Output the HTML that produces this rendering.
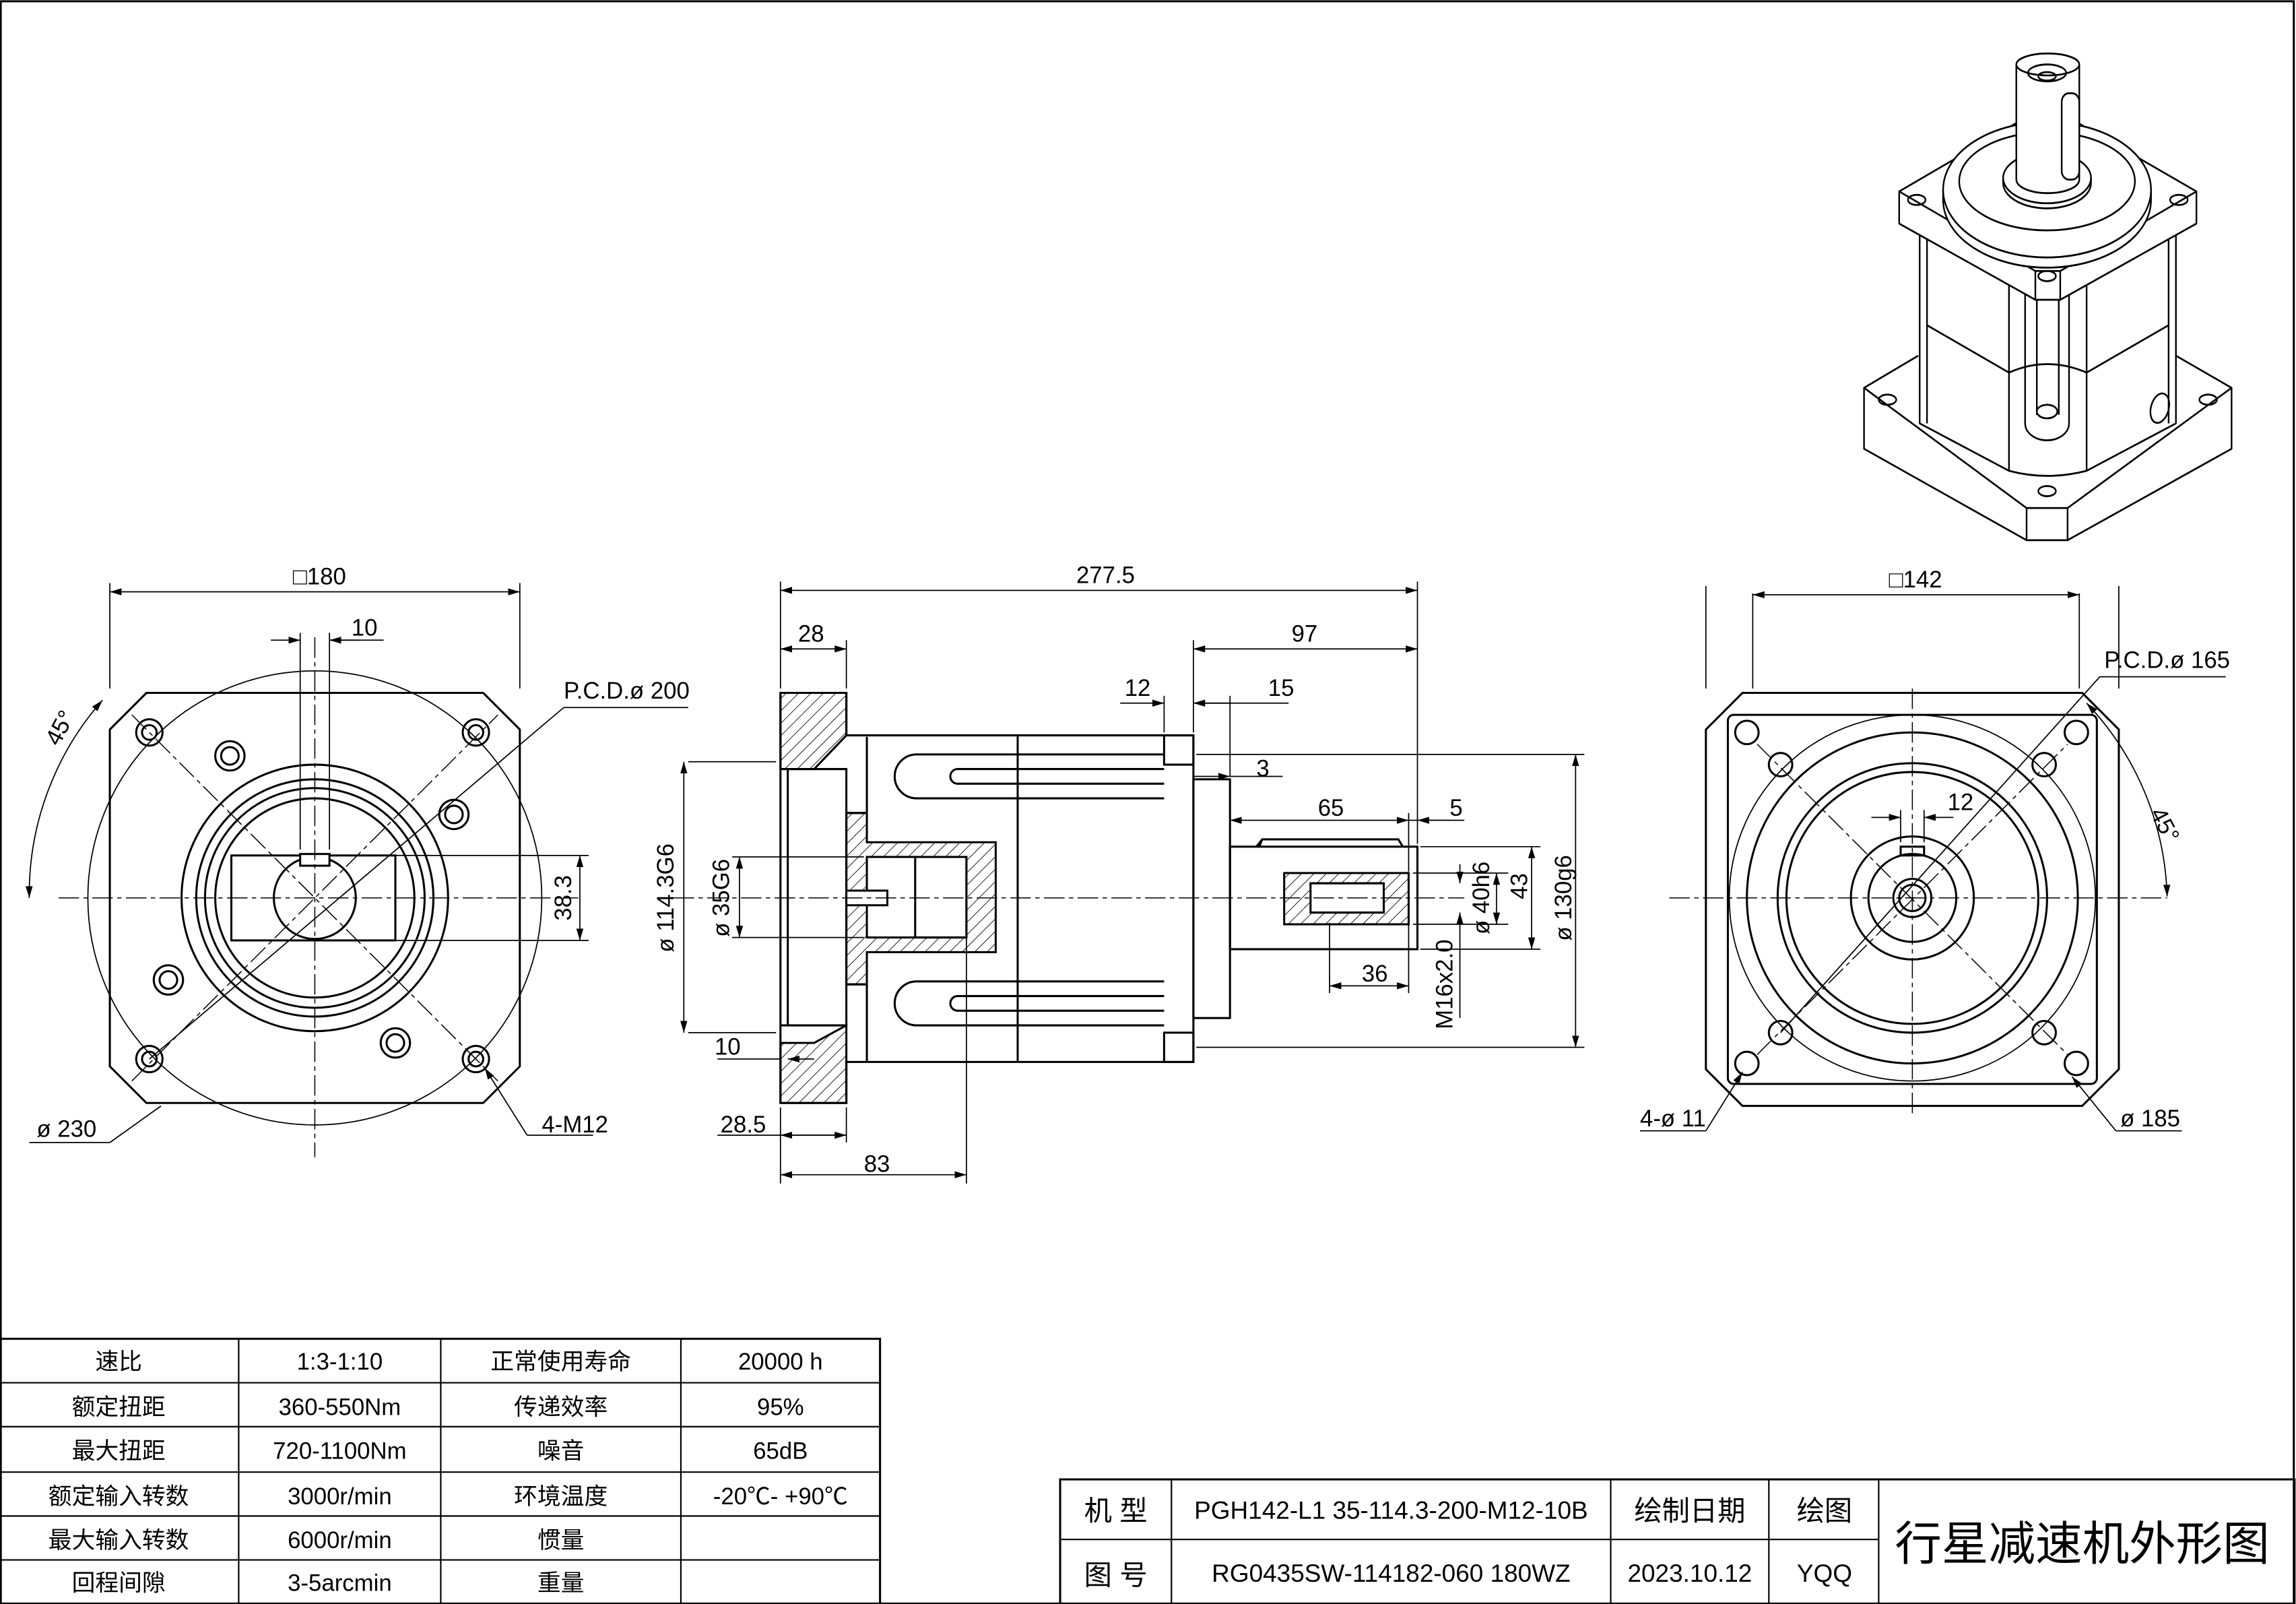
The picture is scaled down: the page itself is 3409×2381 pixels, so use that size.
<!DOCTYPE html>
<html><head><meta charset="utf-8"><style>
html,body{margin:0;padding:0;background:#fff}
svg{display:block}
text{font-family:"Liberation Sans","Noto Sans CJK SC",sans-serif;fill:#000}
</style></head><body>
<svg width="3409" height="2381" viewBox="0 0 1568 1095" xmlns="http://www.w3.org/2000/svg">
<defs>
<marker id="a" viewBox="0 0 10 10" refX="10" refY="5" markerWidth="8" markerHeight="8" orient="auto-start-reverse" markerUnits="userSpaceOnUse"><path d="M0,2 L10,5 L0,8z" fill="#000"/></marker>
<pattern id="h" width="6" height="6" patternUnits="userSpaceOnUse" patternTransform="rotate(45)"><line x1="0" y1="0" x2="0" y2="6" stroke="#000" stroke-width="0.8"/></pattern>
</defs>
<rect x="0.5" y="0.8" width="1566" height="1094" fill="none" stroke="#000" stroke-width="1.4"/>
<g fill="none" stroke="#000" stroke-width="1.4">
<!-- LEFT VIEW -->
<path d="M100,473 H330 L355,498 V728 L330,753 H100 L75,728 V498 Z"/>
<circle cx="215" cy="613" r="155" stroke-width="0.8"/>
<circle cx="215" cy="613" r="91"/>
<circle cx="215" cy="613" r="81"/>
<circle cx="215" cy="613" r="75"/>
<circle cx="215" cy="613" r="68"/>
<rect x="158" y="584" width="112" height="58"/>
<circle cx="215" cy="613" r="28" fill="#fff"/>
<rect x="205" y="583" width="20" height="8" fill="#fff"/>
<g>
<circle cx="102" cy="500" r="9"/><circle cx="102" cy="500" r="5"/>
<circle cx="325" cy="500" r="9"/><circle cx="325" cy="500" r="5"/>
<circle cx="102" cy="723" r="9"/><circle cx="102" cy="723" r="5"/>
<circle cx="325" cy="723" r="9"/><circle cx="325" cy="723" r="5"/>
<circle cx="157" cy="516" r="10"/><circle cx="157" cy="516" r="6"/>
<circle cx="310" cy="556" r="10"/><circle cx="310" cy="556" r="6"/>
<circle cx="115" cy="669" r="10"/><circle cx="115" cy="669" r="6"/>
<circle cx="270" cy="712" r="10"/><circle cx="270" cy="712" r="6"/>
</g>
<g stroke-width="0.7" stroke-dasharray="14,3,3,3">
<line x1="40" y1="613" x2="395" y2="613"/><line x1="215" y1="435" x2="215" y2="790"/>
<line x1="90" y1="738" x2="340" y2="488"/><line x1="90" y1="488" x2="340" y2="738"/>
</g>
<g stroke-width="0.8">
<line x1="75" y1="470" x2="75" y2="398"/><line x1="355" y1="470" x2="355" y2="398"/>
<line x1="75" y1="404" x2="355" y2="404" marker-start="url(#a)" marker-end="url(#a)"/>
<line x1="205" y1="580" x2="205" y2="432"/><line x1="225" y1="580" x2="225" y2="432"/>
<line x1="185" y1="437" x2="205" y2="437" marker-end="url(#a)"/><line x1="245" y1="437" x2="225" y2="437" marker-end="url(#a)"/><line x1="225" y1="437" x2="262" y2="437"/>
<line x1="270" y1="584" x2="402" y2="584"/><line x1="270" y1="642" x2="402" y2="642"/>
<line x1="396" y1="584" x2="396" y2="642" marker-start="url(#a)" marker-end="url(#a)"/>
<line x1="102" y1="723" x2="385" y2="483"/><line x1="385" y1="483" x2="470" y2="483"/>
<path d="M70,478 A200,200 0 0 0 20,613" marker-start="url(#a)" marker-end="url(#a)"/>
<line x1="75" y1="780" x2="110" y2="755"/><line x1="20" y1="780" x2="75" y2="780"/>
<line x1="360" y1="775" x2="331" y2="729" marker-end="url(#a)"/><line x1="360" y1="775" x2="405" y2="775"/>
</g>
<!-- MIDDLE VIEW -->
<path d="M533,473 H578 V502 H815 V725 H578 V753 H533 Z"/>
<path d="M533,473 H578 V502 L556,525 H533 Z" fill="url(#h)"/>
<path d="M533,753 H578 V725 V700 L556,712 H533 Z" fill="url(#h)"/>
<line x1="533" y1="525" x2="578" y2="525"/>
<line x1="533" y1="700" x2="578" y2="700"/>
<rect x="538" y="525" width="40" height="175"/>
<path d="M578,555 H592 V503 M592,725 V672 H578" />
<path d="M578,555 H592 V575 H680 V650 H592 V672 H578 Z" fill="url(#h)"/>
<rect x="592" y="585" width="68" height="55" fill="#fff"/>
<rect x="625" y="585" width="35" height="55"/>
<rect x="578" y="608" width="28" height="10" fill="#fff"/>
<path d="M626,515 H795 M626,545 H795 M626,515 A15,15 0 0 0 626,545 M654,525 H795 M654,535 H795 M654,525 A5,5 0 0 0 654,535"/>
<path d="M626,670 H795 M626,700 H795 M626,670 A15,15 0 0 0 626,700 M654,680 H795 M654,690 H795 M654,680 A5,5 0 0 0 654,690"/>
<line x1="695" y1="502" x2="695" y2="725"/>
<rect x="795" y="502" width="20" height="20"/><rect x="795" y="705" width="20" height="20"/>
<rect x="815" y="532" width="25" height="163"/>
<rect x="840" y="578" width="128" height="70"/>
<path d="M858,578 L862,573 H955 L958,578 M862,573 L860,578"/>
<rect x="877" y="596" width="85" height="35" fill="url(#h)"/>
<rect x="895" y="603" width="50" height="20" fill="#fff"/>
<line x1="895" y1="603" x2="945" y2="603"/><line x1="895" y1="623" x2="945" y2="623"/>
<g stroke-width="0.7" stroke-dasharray="14,3,3,3"><line x1="460" y1="613" x2="1000" y2="613"/></g>
<g stroke-width="0.8">
<line x1="533" y1="470" x2="533" y2="397"/><line x1="968" y1="576" x2="968" y2="397"/>
<line x1="533" y1="403" x2="968" y2="403" marker-start="url(#a)" marker-end="url(#a)"/>
<line x1="578" y1="470" x2="578" y2="437"/><line x1="533" y1="443" x2="578" y2="443" marker-start="url(#a)" marker-end="url(#a)"/>
<line x1="815" y1="500" x2="815" y2="437"/><line x1="815" y1="443" x2="968" y2="443" marker-start="url(#a)" marker-end="url(#a)"/>
<line x1="795" y1="500" x2="795" y2="475"/><line x1="840" y1="530" x2="840" y2="475"/>
<line x1="765" y1="480" x2="795" y2="480" marker-end="url(#a)"/><line x1="840" y1="480" x2="815" y2="480" marker-end="url(#a)"/>
<line x1="815" y1="480" x2="880" y2="480"/>
<line x1="840" y1="530" x2="876" y2="530"/><line x1="815" y1="530" x2="840" y2="530" marker-end="url(#a)"/>
<line x1="840" y1="560" x2="962" y2="560" marker-start="url(#a)" marker-end="url(#a)"/>
<line x1="962" y1="560" x2="1000" y2="560"/><line x1="990" y1="560" x2="968" y2="560" marker-end="url(#a)"/>
<line x1="962" y1="555" x2="962" y2="595"/>
<line x1="470" y1="520" x2="530" y2="520"/><line x1="470" y1="705" x2="530" y2="705"/>
<line x1="467" y1="520" x2="467" y2="705" marker-start="url(#a)" marker-end="url(#a)"/>
<line x1="500" y1="585" x2="590" y2="585"/><line x1="500" y1="640" x2="590" y2="640"/>
<line x1="505" y1="585" x2="505" y2="640" marker-start="url(#a)" marker-end="url(#a)"/>
<line x1="490" y1="723" x2="533" y2="723"/><line x1="556" y1="723" x2="538" y2="723" marker-end="url(#a)"/>
<line x1="533" y1="756" x2="533" y2="808"/><line x1="578" y1="756" x2="578" y2="780"/><line x1="660" y1="640" x2="660" y2="808"/>
<line x1="490" y1="775" x2="578" y2="775"/><line x1="533" y1="775" x2="578" y2="775" marker-start="url(#a)" marker-end="url(#a)"/>
<line x1="533" y1="802" x2="660" y2="802" marker-start="url(#a)" marker-end="url(#a)"/>
<line x1="908" y1="630" x2="908" y2="678"/><line x1="962" y1="630" x2="962" y2="678"/>
<line x1="908" y1="673" x2="962" y2="673" marker-start="url(#a)" marker-end="url(#a)"/>
<line x1="970" y1="578" x2="1052" y2="578"/><line x1="970" y1="648" x2="1052" y2="648"/>
<line x1="1046" y1="578" x2="1046" y2="648" marker-start="url(#a)" marker-end="url(#a)"/>
<line x1="965" y1="596" x2="1030" y2="596"/><line x1="965" y1="631" x2="1030" y2="631"/>
<line x1="1022" y1="596" x2="1022" y2="631" marker-start="url(#a)" marker-end="url(#a)"/>
<line x1="997" y1="590" x2="997" y2="603" marker-end="url(#a)"/><line x1="997" y1="636" x2="997" y2="623" marker-end="url(#a)"/>
<line x1="997" y1="636" x2="997" y2="695"/>
<line x1="817" y1="515" x2="1082" y2="515"/><line x1="817" y1="715" x2="1082" y2="715"/>
<line x1="1076" y1="515" x2="1076" y2="715" marker-start="url(#a)" marker-end="url(#a)"/>
</g>
<!-- RIGHT VIEW -->
<path d="M1190,473 H1422 L1447,498 V730 L1422,755 H1190 L1165,730 V498 Z"/>
<rect x="1180" y="488" width="252" height="252" rx="4"/>
<circle cx="1306" cy="613" r="125" stroke-width="0.8"/>
<circle cx="1306" cy="613" r="113"/>
<circle cx="1306" cy="613" r="92"/>
<circle cx="1306" cy="613" r="86"/>
<circle cx="1306" cy="613" r="42"/>
<circle cx="1306" cy="613" r="30"/>
<circle cx="1306" cy="613" r="13"/><circle cx="1306" cy="613" r="9"/>
<rect x="1298" y="578" width="16" height="6"/>
<circle cx="1193" cy="500" r="8"/><circle cx="1418" cy="500" r="8"/><circle cx="1193" cy="726" r="8"/><circle cx="1418" cy="726" r="8"/>
<circle cx="1216" cy="522" r="8"/><circle cx="1396" cy="522" r="8"/><circle cx="1216" cy="705" r="8"/><circle cx="1396" cy="705" r="8"/>
<g stroke-width="0.7" stroke-dasharray="14,3,3,3">
<line x1="1140" y1="613" x2="1480" y2="613"/><line x1="1306" y1="470" x2="1306" y2="760"/>
<line x1="1200" y1="720" x2="1412" y2="508"/><line x1="1200" y1="508" x2="1412" y2="720"/>
</g>
<g stroke-width="0.8">
<line x1="1165" y1="470" x2="1165" y2="400"/><line x1="1447" y1="470" x2="1447" y2="400"/><line x1="1197" y1="405" x2="1197" y2="470"/><line x1="1420" y1="405" x2="1420" y2="470"/>
<line x1="1197" y1="406" x2="1420" y2="406" marker-start="url(#a)" marker-end="url(#a)"/>
<line x1="1298" y1="575" x2="1298" y2="553"/><line x1="1314" y1="575" x2="1314" y2="553"/>
<line x1="1278" y1="558" x2="1298" y2="558" marker-end="url(#a)"/><line x1="1334" y1="558" x2="1314" y2="558" marker-end="url(#a)"/>
<line x1="1216" y1="705" x2="1434" y2="462"/><line x1="1434" y1="462" x2="1520" y2="462"/>
<path d="M1425,480 A200,200 0 0 1 1480,612" marker-start="url(#a)" marker-end="url(#a)"/>
<line x1="1120" y1="772" x2="1165" y2="772"/><line x1="1165" y1="772" x2="1190" y2="732" marker-end="url(#a)"/>
<line x1="1445" y1="772" x2="1490" y2="772"/><line x1="1445" y1="772" x2="1415" y2="735" marker-end="url(#a)"/>
</g>
<!-- ISO VIEW -->
<g stroke-width="1.1" stroke-linejoin="round" transform="scale(1,1.156)">
<path d="M1310,210 L1273,229 V265 L1384,319 H1412 L1524,265 V229 L1486,210" fill="#fff"/>
<path d="M1273,229 L1384,300 H1412 L1524,229 M1384,300 V319 M1412,300 V319"/>
<ellipse cx="1289" cy="236" rx="6" ry="3"/><ellipse cx="1508" cy="236" rx="6" ry="3"/><ellipse cx="1398" cy="290" rx="6" ry="3"/>
<path d="M1311,139 V250 L1372,278 Q1398,284 1425,278 L1486,250 V139" fill="#fff"/>
<path d="M1316,139 V250 M1481,139 V250"/>
<path d="M1316,192 L1372,220 Q1398,210 1425,220 L1481,192"/>
<path d="M1372,168 V278 M1425,168 V278"/>
<path d="M1383,172 V250 A15,10 0 0 0 1413,250 V172 M1391,174 V245 M1406,174 V245"/>
<ellipse cx="1398" cy="243" rx="7" ry="4"/>
<ellipse cx="1475" cy="241" rx="6" ry="9" transform="rotate(20 1475 241)"/>
<path d="M1297,113 V132 L1390,177 H1407 L1500,132 V113 L1407,160 H1390 Z" fill="#fff"/>
<path d="M1297,113 L1398,62 L1500,113" />
<path d="M1390,160 V177 M1407,160 V177"/>
<ellipse cx="1309" cy="118" rx="6" ry="3"/><ellipse cx="1488" cy="118" rx="6" ry="3"/><ellipse cx="1398" cy="163" rx="6" ry="3"/>
<path d="M1327,112 V118 A71,40 0 0 0 1469,118 V112" fill="#fff"/>
<ellipse cx="1398" cy="112" rx="71" ry="40" fill="#fff"/>
<ellipse cx="1398" cy="107" rx="60" ry="29"/>
<ellipse cx="1398" cy="105" rx="30" ry="15"/>
<path d="M1368,105 V108 A30,15 0 0 0 1428,108 V105"/>
<path d="M1377,38 V106 A21.5,8 0 0 0 1420,106 V38" fill="#fff"/>
<ellipse cx="1398.5" cy="38" rx="21.5" ry="6.5" fill="#fff"/>
<ellipse cx="1398" cy="43" rx="13" ry="5"/><ellipse cx="1398" cy="45" rx="6" ry="2.5"/>
<rect x="1408" y="55" width="12" height="51" rx="5"/>
</g>
<!-- TABLE -->
<rect x="0.5" y="914" width="600.5" height="181"/>
<g stroke-width="1">
<line x1="0" y1="944" x2="601" y2="944"/><line x1="0" y1="974" x2="601" y2="974"/><line x1="0" y1="1005" x2="601" y2="1005"/><line x1="0" y1="1035" x2="601" y2="1035"/><line x1="0" y1="1065" x2="601" y2="1065"/>
<line x1="163" y1="914" x2="163" y2="1095"/><line x1="301" y1="914" x2="301" y2="1095"/><line x1="465" y1="914" x2="465" y2="1095"/>
</g>
<!-- TITLE BLOCK -->
<rect x="724" y="1010" width="843" height="85"/>
<g stroke-width="1">
<line x1="724" y1="1051" x2="1283" y2="1051"/>
<line x1="800" y1="1010" x2="800" y2="1095"/><line x1="1100" y1="1010" x2="1100" y2="1095"/><line x1="1208" y1="1010" x2="1208" y2="1095"/><line x1="1283" y1="1010" x2="1283" y2="1095"/>
</g>
</g>
<!-- TEXT -->
<g font-size="16">
<text x="200" y="399">□180</text>
<text x="240" y="434">10</text>
<text x="385" y="477">P.C.D.ø 200</text>
<text x="390" y="613" transform="rotate(-90 390 613)" text-anchor="middle">38.3</text>
<text x="40" y="510" transform="rotate(-62 40 510)">45°</text>
<text x="25" y="776">ø 230</text>
<text x="370" y="773">4-M12</text>
<text x="735" y="398">277.5</text>
<text x="545" y="438">28</text>
<text x="882" y="438">97</text>
<text x="768" y="475">12</text>
<text x="866" y="475">15</text>
<text x="858" y="530">3</text>
<text x="900" y="557">65</text>
<text x="990" y="557">5</text>
<text x="460" y="613" transform="rotate(-90 460 613)" text-anchor="middle">ø 114.3G6</text>
<text x="498" y="613" transform="rotate(-90 498 613)" text-anchor="middle">ø 35G6</text>
<text x="488" y="720">10</text>
<text x="492" y="773">28.5</text>
<text x="590" y="800">83</text>
<text x="930" y="670">36</text>
<text x="1017" y="613" transform="rotate(-90 1017 613)" text-anchor="middle">ø 40h6</text>
<text x="1043" y="605" transform="rotate(-90 1043 605)" text-anchor="middle">43</text>
<text x="1073" y="613" transform="rotate(-90 1073 613)" text-anchor="middle">ø 130g6</text>
<text x="992" y="672" transform="rotate(-90 992 672)" text-anchor="middle">M16x2.0</text>
<text x="1290" y="401">□142</text>
<text x="1437" y="456">P.C.D.ø 165</text>
<text x="1330" y="553">12</text>
<text x="1468" y="555" transform="rotate(62 1468 555)">45°</text>
<text x="1120" y="769">4-ø 11</text>
<text x="1448" y="769">ø 185</text>
</g>
<g font-size="16" text-anchor="middle">
<text x="81" y="935">速比</text><text x="232" y="935">1:3-1:10</text><text x="383" y="935">正常使用寿命</text><text x="533" y="935">20000 h</text>
<text x="81" y="966">额定扭距</text><text x="232" y="966">360-550Nm</text><text x="383" y="966">传递效率</text><text x="533" y="966">95%</text>
<text x="81" y="996">最大扭距</text><text x="232" y="996">720-1100Nm</text><text x="383" y="996">噪音</text><text x="533" y="996">65dB</text>
<text x="81" y="1027">额定输入转数</text><text x="232" y="1027">3000r/min</text><text x="383" y="1027">环境温度</text><text x="533" y="1027">-20℃- +90℃</text>
<text x="81" y="1057">最大输入转数</text><text x="232" y="1057">6000r/min</text><text x="383" y="1057">惯量</text>
<text x="81" y="1086">回程间隙</text><text x="232" y="1086">3-5arcmin</text><text x="383" y="1086">重量</text>
</g>
<g font-size="19" text-anchor="middle">
<text x="762" y="1038">机 型</text><text x="950" y="1037" font-size="17">PGH142-L1 35-114.3-200-M12-10B</text>
<text x="1154" y="1038">绘制日期</text><text x="1246" y="1038">绘图</text>
<text x="762" y="1082">图 号</text><text x="950" y="1080" font-size="17">RG0435SW-114182-060 180WZ</text>
<text x="1154" y="1080" font-size="17">2023.10.12</text><text x="1246" y="1080" font-size="17">YQQ</text>
<text x="1422" y="1065" font-size="32">行星减速机外形图</text>
</g>
</svg>
</body></html>
